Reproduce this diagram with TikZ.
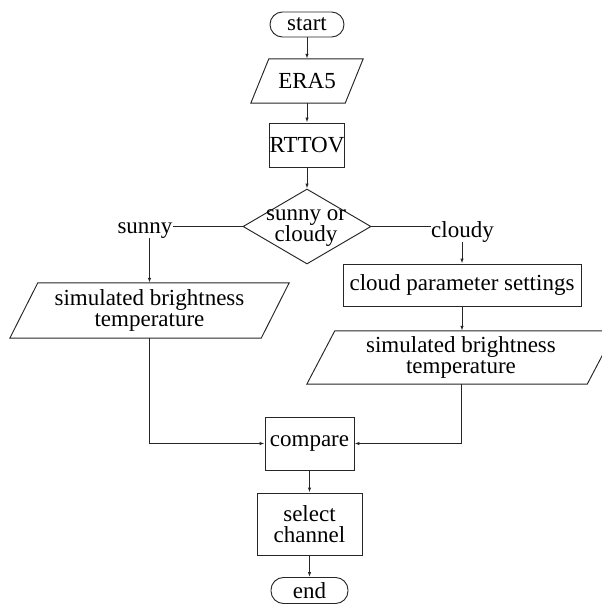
\documentclass[tikz,border=0pt]{standalone}
\usepackage{fontspec}
\setmainfont{Liberation Serif}
\usetikzlibrary{shapes.geometric,arrows.meta}
\begin{document}
\begin{tikzpicture}[x=1pt,y=-1pt,
  every node/.style={font=\fontsize{23}{21}\selectfont, text=black},
  line/.style={draw=black!85, line width=0.95pt},
  arr/.style={line, -{Latex[length=5pt,width=3.5pt]}},
  term/.style={line, rectangle, rounded corners=12.5pt, inner sep=0pt},
  proc/.style={line, rectangle, inner sep=0pt, align=center},
  io/.style={inner sep=0pt, align=center},
  lbl/.style={inner sep=0pt, anchor=base},
]
\useasboundingbox (0,0) rectangle (602,605);
\clip (0,0) rectangle (602,605);
% nodes
\node[term, minimum width=74pt, minimum height=25pt] (start) at (307,24.5) {start};
\node[io, minimum width=112pt, minimum height=44pt] (era) at (307,81) {ERA5};
\draw[line] ([xshift=18pt]era.north west) -- (era.north east) -- ([xshift=-18pt]era.south east) -- (era.south west) -- cycle;
\node[proc, minimum width=75pt, minimum height=44pt] (rttov) at (307,145) {RTTOV};
\node[diamond, line, minimum width=128pt, minimum height=75pt, inner sep=0pt] (dia) at (307,226.5) {};
\node[io] (diatext) at (306,228) {sunny or\\cloudy};
\node[lbl] (sunny) at (145,233) {sunny};
\node[lbl] (cloudy) at (462.5,237) {cloudy};
\node[io, minimum width=279pt, minimum height=55pt] (lp) at (149.5,310.5) {simulated brightness\\temperature};
\draw[line] ([xshift=28pt]lp.north west) -- (lp.north east) -- ([xshift=-28pt]lp.south east) -- (lp.south west) -- cycle;
\node[proc, minimum width=238pt, minimum height=42pt] (cloud) at (462,285) {cloud parameter settings};
\node[io, minimum width=308pt, minimum height=53pt] (rp) at (461,357.5) {simulated brightness\\temperature};
\draw[line] ([xshift=28pt]rp.north west) -- (rp.north east) -- ([xshift=-28pt]rp.south east) -- (rp.south west) -- cycle;
\node[proc, minimum width=89pt, minimum height=53pt] (cmp) at (309.5,443.5) {compare};
\node[proc, minimum width=105pt, minimum height=62pt] (sel) at (309.5,524) {select\\channel};
\node[term, minimum width=77pt, minimum height=26pt] (stop) at (309.5,590.5) {end};
% connectors
\draw[arr] (start.south) -- (era.north);
\draw[arr] (era.south) -- (rttov.north);
\draw[arr] (rttov.south) -- (dia.north);
\draw[line] (dia.west) -- (dia.west -| sunny.east);
\draw[line] (dia.east) -- (dia.east -| cloudy.west);
\draw[arr] (lp.north |- sunny.south) -- (lp.north);
\draw[arr] (cloud.north |- cloudy.south) -- (cloud.north);
\draw[arr] (cloud.south) -- (cloud.south |- rp.north);
\draw[arr] (lp.south) |- (cmp.west);
\draw[arr] (rp.south) |- (cmp.east);
\draw[arr] (cmp.south) -- (sel.north);
\draw[arr] (sel.south) -- (stop.north);
\end{tikzpicture}
\end{document}
